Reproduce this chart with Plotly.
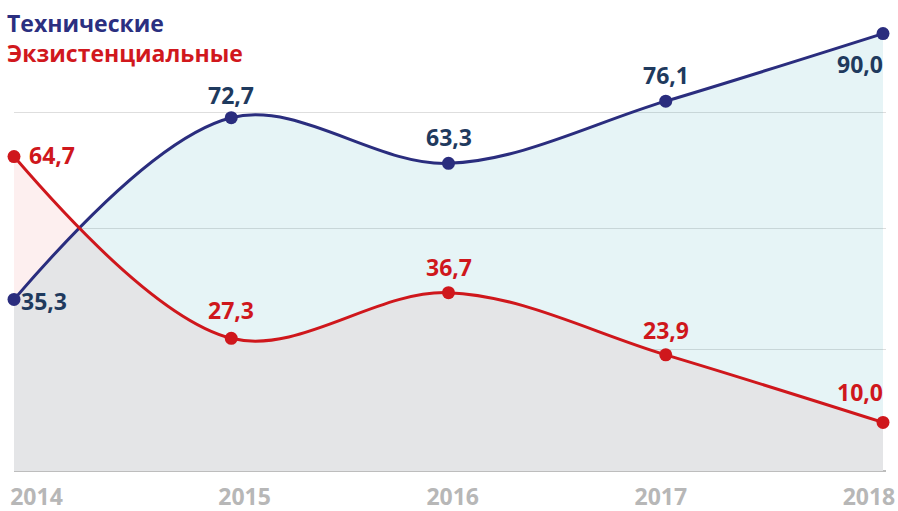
import plotly.graph_objects as go

years = [2014, 2015, 2016, 2017, 2018]
tech = [35.3, 72.7, 63.3, 76.1, 90.0]
exist = [64.7, 27.3, 36.7, 23.9, 10.0]
tick_labels = ["2014", "2015", "2016", "2017", "2018"]
grid_vals = [0, 25.1, 49.8, 73.7]

BLUE = "#2a2d7e"
BLUE_TXT = "#1f3a5e"
RED = "#cf171c"
FONT = "Open Sans"

# label placement styles (anchor, xshift, yshift) per point
tech_lbl_style = [("left", 5, -2), ("center", 0, 23), ("center", 0, 26), ("center", 0, 26), ("right", 2, -30)]
exist_lbl_style = [("left", 13, 2), ("center", 0, 28), ("center", 0, 26), ("center", 0, 25), ("right", 2, 30)]


def fmt(v):
    return f"{v:.1f}".replace(".", ",")


fig = go.Figure()

# fills: red first (opaque pink), blue on top (low alpha cyan -> gray where overlapping)
fig.add_trace(go.Scatter(x=years, y=exist, mode="none", fill="tozeroy",
                         fillcolor="rgb(253,239,239)", line=dict(shape="spline"),
                         hoverinfo="skip", showlegend=False))
fig.add_trace(go.Scatter(x=years, y=tech, mode="none", fill="tozeroy",
                         fillcolor="rgba(5,145,165,0.1)", line=dict(shape="spline"),
                         hoverinfo="skip", showlegend=False))

# lines with markers
fig.add_trace(go.Scatter(
    x=years, y=tech, mode="lines+markers", name="Технические",
    line=dict(color=BLUE, width=3, shape="spline"),
    marker=dict(color=BLUE, size=13),
    cliponaxis=False, showlegend=False))
fig.add_trace(go.Scatter(
    x=years, y=exist, mode="lines+markers", name="Экзистенциальные",
    line=dict(color=RED, width=3, shape="spline"),
    marker=dict(color=RED, size=13),
    cliponaxis=False, showlegend=False))

# invisible trace to activate the tick-label axis
fig.add_trace(go.Scatter(x=years, y=[None] * len(years), xaxis="x2", mode="none",
                         showlegend=False, hoverinfo="skip"))

annotations = []
for xs, ys, styles, col in ((years, tech, tech_lbl_style, BLUE_TXT),
                            (years, exist, exist_lbl_style, RED)):
    for xv, yv, (anc, xs_, ys_) in zip(xs, ys, styles):
        annotations.append(dict(
            x=xv, y=yv, xref="x", yref="y", text=fmt(yv), showarrow=False,
            xanchor=anc, yanchor="middle", xshift=xs_, yshift=ys_,
            font=dict(family=FONT, size=23, color=col, weight="bold")))

annotations.append(dict(
    text=("<span style='color:#2b2f80'>Технические</span><br>"
          "<span style='color:#d1181d'>Экзистенциальные</span>"),
    xref="paper", yref="paper", x=-0.0103, y=0.961,
    xanchor="left", yanchor="middle", align="left", showarrow=False,
    font=dict(family=FONT, size=23, color="#2b2f80", weight="bold")))

fig.update_layout(
    width=898, height=511,
    margin=dict(l=14, r=12, t=20, b=40, autoexpand=False),
    paper_bgcolor="white", plot_bgcolor="white",
    font=dict(family=FONT),
    hovermode=False,
    xaxis=dict(range=[2014, 2018.0138], showgrid=False, zeroline=False,
               showticklabels=False, showline=False, ticks="", automargin=False),
    xaxis2=dict(overlaying="x", anchor="y", side="bottom",
                range=[2013.892, 2018.082], tickvals=years, ticktext=tick_labels,
                showgrid=False, zeroline=False, showline=False, ticks="",
                automargin=False, ticklabeloverflow="allow", ticklabelstandoff=10,
                tickfont=dict(family=FONT, size=23, color="#b7b7b7", weight="bold")),
    yaxis=dict(range=[0, 92.8], tickvals=grid_vals, showticklabels=False,
               showgrid=True, gridcolor="#dedede", gridwidth=1,
               zeroline=True, zerolinecolor="#bdbdbd", zerolinewidth=2,
               showline=False, automargin=False),
    annotations=annotations,
)

fig.write_html("out.html",
               config={"displayModeBar": False},
               post_script="document.body.style.margin='0';document.body.style.overflow='hidden';")
